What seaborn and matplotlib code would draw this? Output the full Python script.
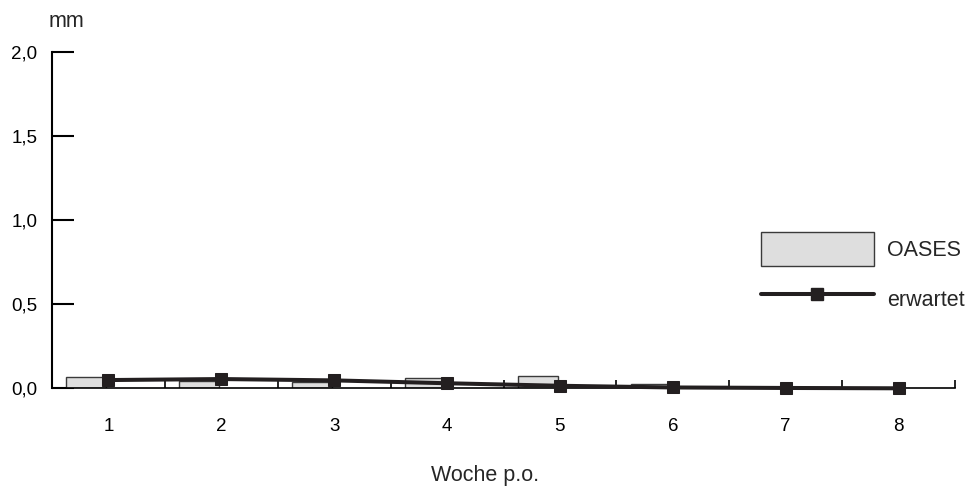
import numpy as np
import pandas as pd
import matplotlib
matplotlib.use("Agg")
import matplotlib.pyplot as plt
from matplotlib.patches import Patch
from matplotlib.lines import Line2D
from matplotlib.ticker import FixedLocator
import seaborn as sns

# ---- data ----
weeks = [1, 2, 3, 4, 5, 6, 7, 8]
oases = [0.065, 0.043, 0.036, 0.063, 0.075, 0.026, 0.005, 0.0]
erwartet = [0.049, 0.055, 0.047, 0.030, 0.015, 0.005, 0.002, 0.0]
y_ticks = [0.0, 0.5, 1.0, 1.5, 2.0]
y_ticklabels = ["0,0", "0,5", "1,0", "1,5", "2,0"]
x_label = "Woche p.o."
y_label = "mm"
legend_labels = ["OASES", "erwartet"]

# ---- style ----
sns.set_style("white")
plt.rcParams["font.family"] = ["Liberation Sans", "DejaVu Sans"]

bar_face = "#dedede"
bar_edge = "#3a3a3a"
line_col = "#231f20"
bar_offset = 0.195
bar_width = 0.355

fig = plt.figure(figsize=(9.73, 4.90), dpi=100)
ax = fig.add_axes([52 / 973, 1 - 388.3 / 490, 903 / 973, 336.6 / 490])

df = pd.DataFrame({"week": weeks, "OASES": oases, "erwartet": erwartet})
df["pos"] = df["week"] - bar_offset

sns.barplot(data=df, x="pos", y="OASES", native_scale=True, orient="x",
            width=bar_width, color=bar_face, saturation=1, edgecolor=bar_edge,
            linewidth=1.0, errorbar=None, ax=ax, zorder=2)

sns.lineplot(data=df, x="week", y="erwartet", marker="s", markersize=8.6,
             linewidth=2.9, color=line_col, markeredgecolor=line_col,
             ax=ax, zorder=4, clip_on=False)

ax.set_xlim(0.5, 8.5)
ax.set_ylim(0, 2.0)

# axes / spines
for s in ["top", "right"]:
    ax.spines[s].set_visible(False)
ax.spines["left"].set_linewidth(1.5)
ax.spines["bottom"].set_linewidth(1.2)
ax.spines["left"].set_color("black")
ax.spines["bottom"].set_color("black")
ax.grid(False)

ax.set_yticks(y_ticks)
ax.set_yticklabels(y_ticklabels)
ax.tick_params(axis="y", direction="in", length=15.8, width=1.5, pad=10.5,
               labelsize=13.5, colors="black", left=True)

ax.set_xticks(weeks)
ax.set_xticklabels([str(w) for w in weeks])
ax.tick_params(axis="x", which="major", length=0, pad=21.5, labelsize=13.5,
               colors="black")
ax.xaxis.set_minor_locator(FixedLocator([w + 0.5 for w in weeks]))
ax.tick_params(axis="x", which="minor", direction="in", length=5.8, width=1.2,
               color="black", bottom=True)

ax.set_xlabel(x_label, fontsize=15.5)
ax.xaxis.set_label_coords((485 - 52) / 903, -0.229)
ax.set_ylabel("")
ax.text(0.0155, 1.0734, y_label, transform=ax.transAxes, ha="center",
        va="baseline", fontsize=15.5)

handles = [
    Patch(facecolor=bar_face, edgecolor=bar_edge, linewidth=1.0),
    Line2D([0], [0], color=line_col, linewidth=2.9, marker="s",
           markersize=8.6, markerfacecolor=line_col, markeredgecolor=line_col),
]
ax.legend(handles, legend_labels, loc="upper left",
          bbox_to_anchor=(760.7 / 973, 1 - 231.7 / 490),
          bbox_transform=fig.transFigure, frameon=False, fontsize=15.5,
          handlelength=5.27, handleheight=2.056, handletextpad=0.6,
          labelspacing=0.74, borderpad=0, borderaxespad=0, numpoints=1)

fig.savefig("out.png", dpi=100)
